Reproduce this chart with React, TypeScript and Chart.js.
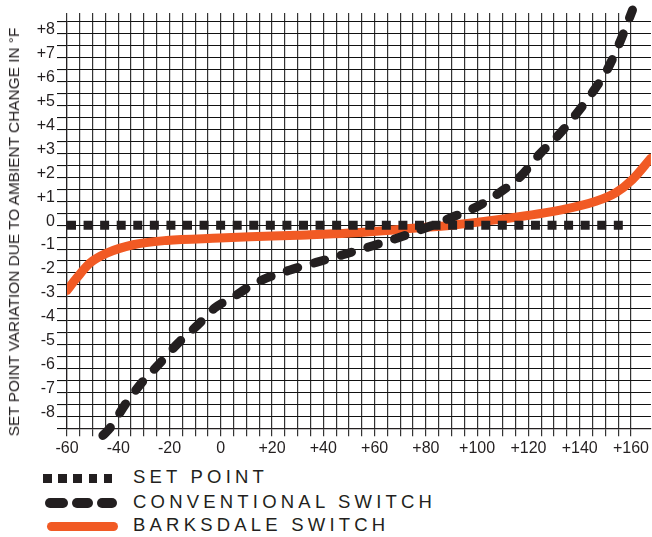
import React, { useEffect, useRef } from "react";
import { Chart, registerables } from "chart.js";

Chart.register(...registerables);

// ---- data ----
const xLabelValues = [-60, -40, -20, 0, 20, 40, 60, 80, 100, 120, 140, 160];
const yLabelValues = [-8, -7, -6, -5, -4, -3, -2, -1, 0, 1, 2, 3, 4, 5, 6, 7, 8];
const xGridStep = 5;
const yGridStep = 0.5;

const setPointX = [-60, 157];
const setPointY = [0, 0];

const conventionalX = [-46, -43.3, -37.4, -30.9, -23.8, -16.7, -8.9, -2.4, 5, 11.3, 16.4, 28.1, 37.2, 47.6, 59.3, 69, 79, 90.4, 100.8, 108.6, 117, 124.2, 132, 138.5, 144.9, 150.7, 155.3, 160.6];
const conventionalY = [-8.8, -8.5, -7.52, -6.6, -5.78, -4.94, -4.17, -3.47, -3.0, -2.56, -2.28, -1.84, -1.56, -1.24, -0.86, -0.54, -0.15, 0.34, 0.82, 1.35, 2.05, 2.95, 3.8, 4.63, 5.54, 6.5, 7.56, 9.0];

const barksdaleX = [-60, -56.2, -51, -44.5, -34.2, -21.2, -0.4, 11.3, 30, 50.2, 76.2, 90, 108, 133.3, 146.3, 154, 160.5, 167.8];
const barksdaleY = [-2.73, -2.21, -1.58, -1.17, -0.82, -0.64, -0.54, -0.49, -0.42, -0.33, -0.12, 0.0, 0.23, 0.65, 1.0, 1.35, 1.9, 2.8];

const legendLabels = ["SET POINT", "CONVENTIONAL SWITCH", "BARKSDALE SWITCH"];
const yTitle = "SET POINT VARIATION DUE TO AMBIENT CHANGE IN °F";

const INK = "#231F20";
const ORANGE = "#F15A24";
const FONT = "'Liberation Sans', Arial, Helvetica, sans-serif";

const X_MIN = -60;
const X_MAX = 167.8;
const X_GRID_MAX = 160;

const toPts = (xs: number[], ys: number[]) => xs.map((x, i) => ({ x, y: ys[i] }));

const fmt = (v: number) => (v > 0 ? "+" + v : String(v));

function xGridTicks() {
  const t: { value: number }[] = [];
  for (let v = X_MIN; v <= X_GRID_MAX + 1e-9; v += xGridStep) t.push({ value: v });
  return t;
}

export default function App() {
  const ref = useRef<HTMLCanvasElement | null>(null);

  useEffect(() => {
    if (!ref.current) return;
    const chart = new Chart(ref.current, {
      type: "line",
      data: {
        datasets: [
          {
            label: legendLabels[0],
            data: toPts(setPointX, setPointY),
            borderColor: INK,
            borderWidth: 9,
            borderDash: [9, 7.57],
            borderCapStyle: "butt",
            pointRadius: 0,
            fill: false,
          },
          {
            label: legendLabels[1],
            data: toPts(conventionalX, conventionalY),
            borderColor: INK,
            borderWidth: 9,
            borderDash: [11, 17],
            borderCapStyle: "round",
            cubicInterpolationMode: "monotone",
            pointRadius: 0,
            fill: false,
            clip: false as any,
          },
          {
            label: legendLabels[2],
            data: toPts(barksdaleX, barksdaleY),
            borderColor: ORANGE,
            borderWidth: 9,
            borderCapStyle: "round",
            borderJoinStyle: "round",
            cubicInterpolationMode: "monotone",
            pointRadius: 0,
            fill: false,
          },
        ],
      },
      options: {
        animation: false,
        responsive: false,
        maintainAspectRatio: false,
        layout: { padding: 0 },
        plugins: {
          legend: { display: false },
          tooltip: { enabled: false },
        },
        scales: {
          x: {
            type: "linear",
            position: "bottom",
            min: X_MIN,
            max: X_MAX,
            afterBuildTicks: (s: any) => {
              s.ticks = xGridTicks();
            },
            afterFit: (s: any) => {
              s.height = 460 - 428.3;
            },
            grid: {
              color: "#333",
              lineWidth: 1.2,
              tickLength: 8,
              drawTicks: true,
            },
            border: { display: true, color: INK, width: 1.2 },
            ticks: {
              autoSkip: false,
              maxRotation: 0,
              padding: 3,
              color: INK,
              font: { family: FONT, size: 16 },
              callback: (v: any) => (xLabelValues.includes(Number(v)) ? fmt(Number(v)) : ""),
            },
          },
          x2: {
            type: "linear",
            position: "top",
            min: X_MIN,
            max: X_MAX,
            afterBuildTicks: (s: any) => {
              s.ticks = xGridTicks();
            },
            afterFit: (s: any) => {
              s.height = 22;
            },
            grid: {
              color: "#333",
              lineWidth: 1.2,
              tickLength: 9,
              drawTicks: true,
              drawOnChartArea: false,
            },
            border: { display: false },
            ticks: { display: false },
          },
          y: {
            type: "linear",
            min: -8.5,
            max: 8.5,
            afterFit: (s: any) => {
              s.width = 67;
            },
            grid: {
              color: "#111",
              lineWidth: 1.1,
              tickLength: 10,
              drawTicks: true,
            },
            border: { display: true, color: INK, width: 1.2 },
            ticks: {
              stepSize: yGridStep,
              autoSkip: false,
              padding: 2,
              labelOffset: -4,
              color: INK,
              font: { family: FONT, size: 16 },
              callback: (v: any) => (yLabelValues.includes(Number(v)) ? fmt(Number(v)) : ""),
            },
          },
        },
      },
    });
    return () => chart.destroy();
  }, []);

  const legendText: React.CSSProperties = {
    position: "absolute",
    left: 133,
    fontFamily: FONT,
    fontSize: "18.5px",
    lineHeight: "18.5px",
    letterSpacing: "4.2px",
    color: INK,
    whiteSpace: "nowrap",
  };

  const squares = [0, 1, 2, 3, 4];
  const dashes = [
    [45, 23],
    [72, 21],
    [97, 20],
  ];

  return (
    <div style={{ position: "absolute", left: 0, top: 0, width: 652, height: 537, background: "#fff", overflow: "hidden" }}>
      <canvas ref={ref} width={652} height={460} style={{ position: "absolute", left: 0, top: 0, width: 652, height: 460 }} />
      <div
        style={{
          position: "absolute",
          left: 14,
          top: 231.7,
          transform: "translate(-50%, -50%) rotate(-90deg)",
          fontFamily: FONT,
          fontSize: "15.4px",
          lineHeight: "16px",
          color: INK,
          whiteSpace: "nowrap",
        }}
      >
        {yTitle}
      </div>
      {squares.map((i) => (
        <div key={i} style={{ position: "absolute", left: 43 + i * 15.2, top: 474, width: 8.5, height: 8.5, background: INK }} />
      ))}
      {dashes.map(([l, w], i) => (
        <div key={i} style={{ position: "absolute", left: l, top: 497.5, width: w, height: 10, borderRadius: 5, background: INK }} />
      ))}
      <div style={{ position: "absolute", left: 47, top: 521.5, width: 71, height: 9.5, borderRadius: 5, background: ORANGE }} />
      <div style={{ ...legendText, top: 468 }}>{legendLabels[0]}</div>
      <div style={{ ...legendText, top: 493.4 }}>{legendLabels[1]}</div>
      <div style={{ ...legendText, top: 516.4 }}>{legendLabels[2]}</div>
    </div>
  );
}
